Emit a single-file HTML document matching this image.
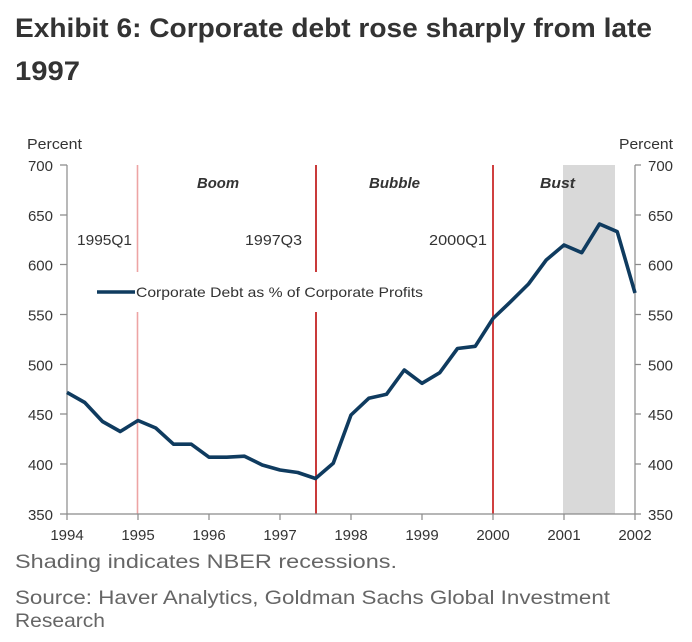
<!DOCTYPE html>
<html><head><meta charset="utf-8"><style>
html,body{margin:0;padding:0;background:#fff;}
svg{display:block;}
</style></head><body>
<svg width="692" height="642" viewBox="0 0 692 642" xmlns="http://www.w3.org/2000/svg">
<rect width="692" height="642" fill="#fff"/>
<!-- Title -->
<g font-family="Liberation Sans, sans-serif" font-weight="bold" fill="#333" font-size="27">
<text x="15" y="37" textLength="637" lengthAdjust="spacingAndGlyphs">Exhibit 6: Corporate debt rose sharply from late</text>
<text x="15" y="80" textLength="65" lengthAdjust="spacingAndGlyphs">1997</text>
</g>
<!-- shading -->
<rect x="563" y="165" width="52" height="349" fill="#d9d9d9"/>
<!-- vertical event lines -->
<g>
<line x1="137.5" y1="165" x2="137.5" y2="272" stroke="#eda4a4" stroke-width="1.6"/>
<line x1="137.5" y1="312" x2="137.5" y2="514" stroke="#eda4a4" stroke-width="1.6"/>
<line x1="316" y1="165" x2="316" y2="272" stroke="#c93a3a" stroke-width="2"/>
<line x1="316" y1="312" x2="316" y2="514" stroke="#c93a3a" stroke-width="2"/>
<line x1="493" y1="165" x2="493" y2="514" stroke="#d04040" stroke-width="2"/>
</g>
<!-- axes -->
<g stroke="#8a8a8a" stroke-width="1.2" fill="none">
<line x1="67" y1="165" x2="67" y2="514"/>
<line x1="635" y1="165" x2="635" y2="514"/>
<line x1="67" y1="514" x2="635" y2="514"/>
<path d="M60 165H67M60 215H67M60 264.5H67M60 314.5H67M60 364.5H67M60 414H67M60 464H67M60 514H67"/>
<path d="M635 165H641M635 215H641M635 264.5H641M635 314.5H641M635 364.5H641M635 414H641M635 464H641M635 514H641"/>
<path d="M67 514V520M138 514V520M209 514V520M280 514V520M351 514V520M422 514V520M493 514V520M564 514V520M635 514V520"/>
</g>
<!-- tick labels -->
<g font-family="Liberation Sans, sans-serif" font-size="15" fill="#333">
<g text-anchor="end">
<text x="53" y="171">700</text>
<text x="53" y="221">650</text>
<text x="53" y="270.5">600</text>
<text x="53" y="320.5">550</text>
<text x="53" y="370.5">500</text>
<text x="53" y="420">450</text>
<text x="53" y="470">400</text>
<text x="53" y="520">350</text>
</g>
<g>
<text x="648" y="171">700</text>
<text x="648" y="221">650</text>
<text x="648" y="270.5">600</text>
<text x="648" y="320.5">550</text>
<text x="648" y="370.5">500</text>
<text x="648" y="420">450</text>
<text x="648" y="470">400</text>
<text x="648" y="520">350</text>
</g>
<g text-anchor="middle">
<text x="67" y="540">1994</text>
<text x="138" y="540">1995</text>
<text x="209" y="540">1996</text>
<text x="280" y="540">1997</text>
<text x="351" y="540">1998</text>
<text x="422" y="540">1999</text>
<text x="493" y="540">2000</text>
<text x="564" y="540">2001</text>
<text x="635" y="540">2002</text>
</g>
<text x="27" y="149" textLength="55" lengthAdjust="spacingAndGlyphs">Percent</text>
<text x="619" y="149" textLength="54" lengthAdjust="spacingAndGlyphs">Percent</text>
<text x="77" y="245" textLength="55" lengthAdjust="spacingAndGlyphs">1995Q1</text>
<text x="245" y="245" textLength="57" lengthAdjust="spacingAndGlyphs">1997Q3</text>
<text x="429" y="245" textLength="58" lengthAdjust="spacingAndGlyphs">2000Q1</text>
<g font-weight="bold" font-style="italic">
<text x="197" y="188" textLength="42" lengthAdjust="spacingAndGlyphs">Boom</text>
<text x="369" y="188" textLength="51" lengthAdjust="spacingAndGlyphs">Bubble</text>
<text x="540" y="188" textLength="35" lengthAdjust="spacingAndGlyphs">Bust</text>
</g>
<text x="136" y="297" font-size="14" textLength="287" lengthAdjust="spacingAndGlyphs">Corporate Debt as % of Corporate Profits</text>
</g>
<!-- legend line -->
<line x1="97" y1="292" x2="135" y2="292" stroke="#0f3b5f" stroke-width="3.5"/>
<!-- series -->
<polyline fill="none" stroke="#0f3b5f" stroke-width="3.6" stroke-linejoin="round" stroke-linecap="butt"
points="67,392.4 84.75,402.5 102.5,421.5 120.25,431.5 138,420.5 155.75,428 173.5,444.2 191.25,444.2 209,457.2 226.75,457.2 244.5,456.2 262.25,465 280,470 297.75,472.5 315.5,478.5 333.25,463.3 351,415 368.75,398.3 386.5,394.3 404.25,370 422,383.3 439.75,372.7 457.5,348.5 475.25,346.3 493,318.5 510.75,301.6 528.5,284 546.25,260 564,245 581.75,252.7 599.5,224 617.25,231.7 635,293"/>
<!-- footer -->
<g font-family="Liberation Sans, sans-serif" fill="#666" font-size="19.5">
<text x="15" y="568" textLength="382" lengthAdjust="spacingAndGlyphs">Shading indicates NBER recessions.</text>
<text x="15" y="604" textLength="595" lengthAdjust="spacingAndGlyphs">Source: Haver Analytics, Goldman Sachs Global Investment</text>
<text x="15" y="627" textLength="90" lengthAdjust="spacingAndGlyphs">Research</text>
</g>
</svg>
</body></html>
